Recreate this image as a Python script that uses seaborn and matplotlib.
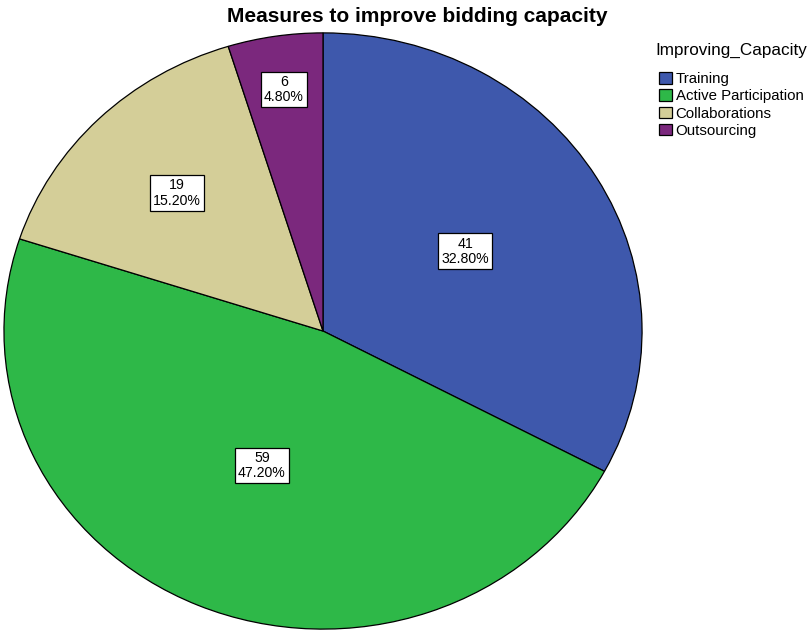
import numpy as np
import matplotlib
matplotlib.use("Agg")
import matplotlib.pyplot as plt
import seaborn as sns

# Survey responses: measures to improve bidding capacity
categories = ["Training", "Active Participation", "Collaborations", "Outsourcing"]
counts = [41, 59, 19, 6]
percents = [32.80, 47.20, 15.20, 4.80]
colors = ["#3E58AC", "#2EB848", "#D4CE98", "#7B287D"]
# radial placement of each label, as a fraction of the radius
label_radius = [0.52, 0.49, 0.65, 0.82]

sns.set_theme(style="white")
plt.rcParams["font.family"] = ["Liberation Sans", "DejaVu Sans"]
plt.rcParams["text.color"] = "black"
palette = sns.color_palette(colors)

W, H = 809, 631
fig = plt.figure(figsize=(W / 100, H / 100), dpi=100)
fig.patch.set_facecolor("white")

# pie area (slightly wider than tall)
ax = fig.add_axes([3 / W, 1 / H, 640 / W, 598 / H])
wedges, _ = ax.pie(
    counts,
    colors=palette,
    startangle=90,
    counterclock=False,
    radius=1.0,
    wedgeprops=dict(edgecolor="black", linewidth=0.9),
)
ax.set_aspect("auto")
ax.set_xlim(-1.003, 1.003)
ax.set_ylim(-1.003, 1.003)
ax.axis("off")

for w, n, p, r in zip(wedges, counts, percents, label_radius):
    mid = np.deg2rad((w.theta1 + w.theta2) / 2)
    ax.text(
        r * np.cos(mid), r * np.sin(mid), f"{n}\n{p:.2f}%",
        ha="center", va="center", fontsize=10.2, linespacing=1.12,
        bbox=dict(boxstyle="square,pad=0.22", facecolor="white",
                  edgecolor="black", linewidth=0.9),
    )

fig.text(417 / W, 1 - 17 / H, "Measures to improve bidding capacity",
         ha="center", va="center", fontsize=15, fontweight="bold")

# legend title and entries
fig.text(655 / W, 1 - 50 / H, "Improving_Capacity",
         ha="left", va="center", fontsize=12.3)
leg = fig.legend(
    wedges, categories,
    loc="upper left", bbox_to_anchor=(659 / W, 1 - 72 / H),
    frameon=False, fontsize=10.8,
    handlelength=0.85, handleheight=0.8, handletextpad=0.25,
    labelspacing=0.22, borderaxespad=0, borderpad=0,
)

fig.savefig("out.png", dpi=100, facecolor="white")
